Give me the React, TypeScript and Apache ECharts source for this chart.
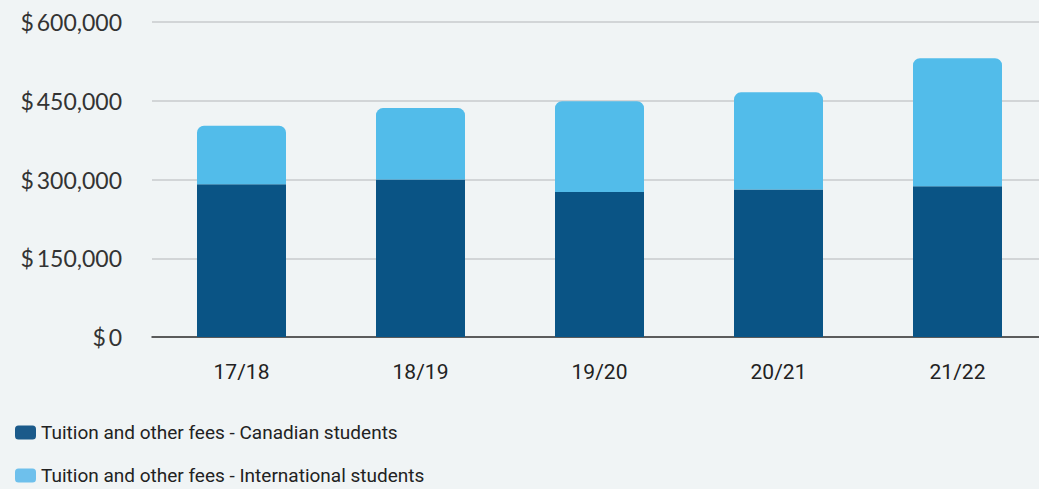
import React, { useEffect, useRef } from "react";
import * as echarts from "echarts";

const categories = ["17/18", "18/19", "19/20", "20/21", "21/22"];
const canadian = [291000, 300000, 276000, 281000, 287000];
const international = [111500, 136000, 173000, 185000, 244000];
const yTicks = [0, 150000, 300000, 450000, 600000];
const seriesNames = [
  "Tuition and other fees - Canadian students",
  "Tuition and other fees - International students",
];
const legendColors = ["#1B5A8A", "#6EC0EC"];

export default function App() {
  const ref = useRef<HTMLDivElement>(null);
  useEffect(() => {
    if (!ref.current) return;
    const chart = echarts.init(ref.current, null, { renderer: "svg" });
    const legendText = {
      fontFamily: "Roboto, sans-serif",
      fontSize: 19,
      color: "#222",
    };
    chart.setOption({
      animation: false,
      backgroundColor: "#F0F4F5",
      grid: { left: 152, right: 0, top: 22, bottom: 152, containLabel: false },
      legend: seriesNames.map((n, i) => ({
        orient: "vertical",
        left: 15,
        top: i === 0 ? 423 : 466,
        padding: 0,
        itemWidth: 21,
        itemHeight: 14,
        itemGap: 8,
        icon: "roundRect",
        textStyle: legendText,
        data: [{ name: n, itemStyle: { color: legendColors[i] } }],
      })),
      xAxis: {
        type: "category",
        data: categories,
        axisLine: { lineStyle: { color: "#333", width: 1.5 } },
        axisTick: { show: false },
        axisLabel: {
          margin: 24,
          fontSize: 21,
          color: "#222",
          fontFamily: "Roboto, sans-serif",
        },
      },
      yAxis: {
        type: "value",
        min: yTicks[0],
        max: yTicks[yTicks.length - 1],
        interval: yTicks[1] - yTicks[0],
        axisLine: { show: false },
        axisTick: { show: false },
        splitLine: { lineStyle: { color: "#C8CBCC", width: 1.5 } },
        axisLabel: {
          margin: 30,
          fontSize: 23,
          color: "#333",
          fontFamily: "Lato, sans-serif",
          formatter: (v: number) => "$\u2009" + v.toLocaleString("en-US"),
        },
      },
      series: [
        {
          name: seriesNames[0],
          type: "bar",
          stack: "total",
          barWidth: 89,
          data: canadian,
          itemStyle: { color: "#0A5485" },
        },
        {
          name: seriesNames[1],
          type: "bar",
          stack: "total",
          barWidth: 89,
          data: international,
          itemStyle: { color: "#52BCEA", borderRadius: [7, 7, 0, 0] },
        },
      ],
    });
    return () => chart.dispose();
  }, []);
  return (
    <div
      style={{
        position: "fixed",
        left: 0,
        top: 0,
        width: 1039,
        height: 489,
        overflow: "hidden",
        background: "#F0F4F5",
      }}
    >
      <div ref={ref} style={{ width: 1047, height: 489 }} />
    </div>
  );
}
